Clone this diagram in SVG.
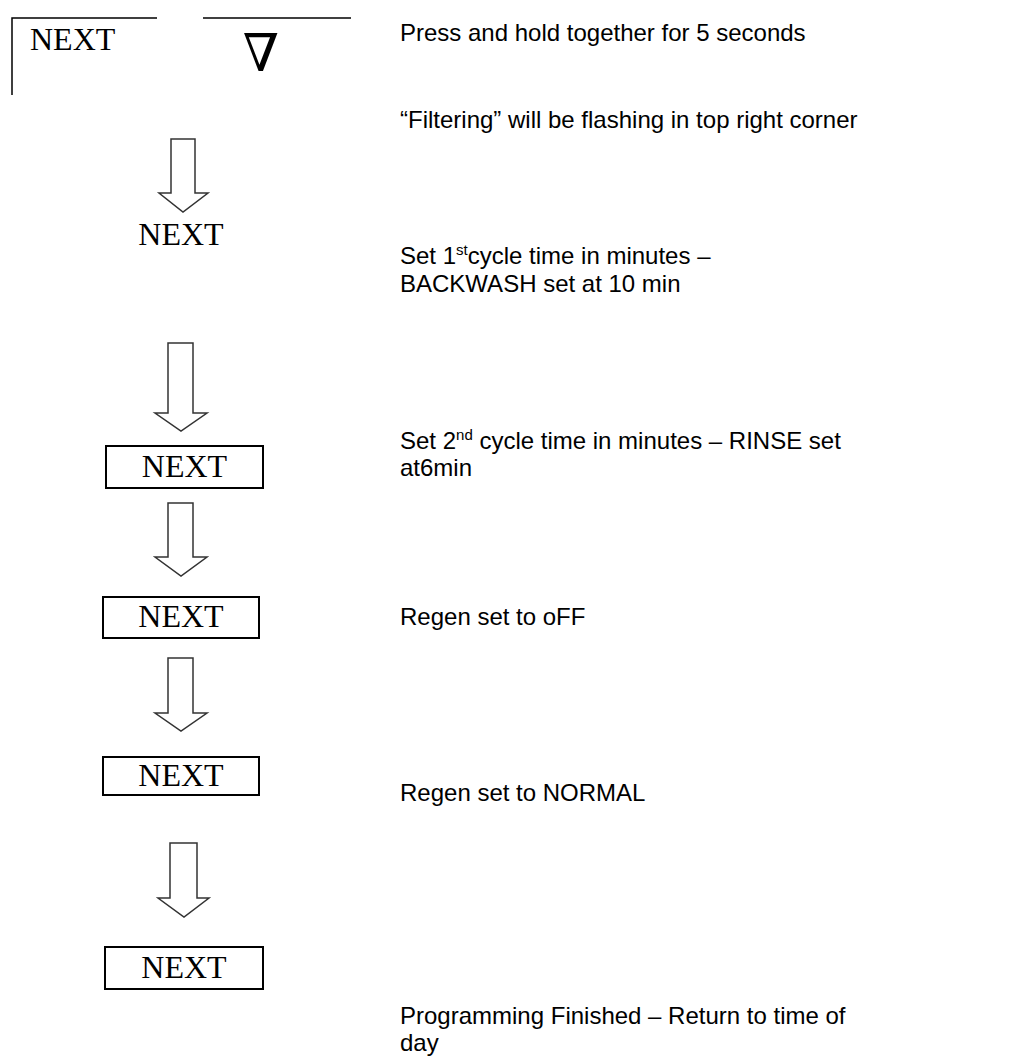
<svg xmlns="http://www.w3.org/2000/svg" width="1010" height="1064" viewBox="0 0 1010 1064">
<style>
.bg{fill:#fff}
.btn{font-family:"Liberation Serif","Times New Roman",serif;font-size:32px;fill:#000}
.txt{font-family:"Liberation Sans",Arial,sans-serif;font-size:24px;fill:#000}
.box{fill:none;stroke:#000;stroke-width:2}
.line{fill:none;stroke:#000;stroke-width:1.5}
.arr{fill:#fff;stroke:#333;stroke-width:1.5;stroke-linejoin:miter}
</style>
<rect class="bg" x="0" y="0" width="1010" height="1064"/>
<g id="keys">
<path class="line" d="M12,95 V18 H157"/>
<path class="line" d="M203,18 H351"/>
<text class="btn" x="30" y="50">NEXT</text>
<text x="261" y="71" text-anchor="middle" style="font-family:'Liberation Serif','DejaVu Serif',serif;font-size:52px">∇</text>
</g>
<g id="connectors">
<path class="arr" d="M171,139 H195 V193 H208 L183,212 L159,193 H171 Z"/>
<path class="arr" d="M168,343 H193 V413 H207 L181,431 L155,413 H168 Z"/>
<path class="arr" d="M168,503 H193 V557 H207 L181,576 L155,557 H168 Z"/>
<path class="arr" d="M168,658 H193 V713 H207 L181,731 L155,713 H168 Z"/>
<path class="arr" d="M170,843 H197 V898 H209 L184,917 L158,898 H170 Z"/>
</g>
<g id="label1"><text class="btn" x="181" y="245" text-anchor="middle">NEXT</text></g>
<g id="box1"><rect class="box" x="106" y="446" width="157" height="42"/><text class="btn" x="184.5" y="477" text-anchor="middle">NEXT</text></g>
<g id="box2"><rect class="box" x="103" y="597" width="156" height="41"/><text class="btn" x="181" y="627" text-anchor="middle">NEXT</text></g>
<g id="box3"><rect class="box" x="103" y="757" width="156" height="38"/><text class="btn" x="181" y="786" text-anchor="middle">NEXT</text></g>
<g id="box4"><rect class="box" x="105" y="947" width="158" height="42"/><text class="btn" x="184" y="978" text-anchor="middle">NEXT</text></g>
<g id="notes">
<text class="txt" x="400" y="41">Press and hold together for 5 seconds</text>
<text class="txt" x="400" y="128">“Filtering” will be flashing in top right corner</text>
<text class="txt" x="400" y="264">Set 1<tspan font-size="15" dy="-9">st</tspan><tspan dy="9">cycle time in minutes –</tspan></text>
<text class="txt" x="400" y="292">BACKWASH set at 10 min</text>
<text class="txt" x="400" y="449">Set 2<tspan font-size="15" dy="-9">nd</tspan><tspan dy="9"> cycle time in minutes – RINSE set</tspan></text>
<text class="txt" x="400" y="476">at6min</text>
<text class="txt" x="400" y="625">Regen set to oFF</text>
<text class="txt" x="400" y="801">Regen set to NORMAL</text>
<text class="txt" x="400" y="1024">Programming Finished – Return to time of</text>
<text class="txt" x="400" y="1051">day</text>
</g>
</svg>
